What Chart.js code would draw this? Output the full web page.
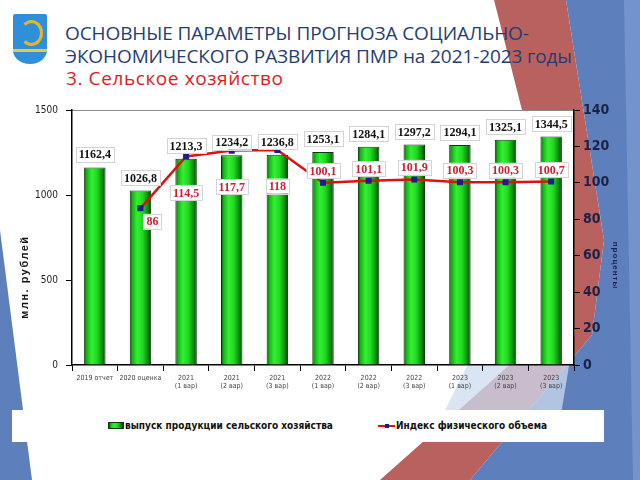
<!DOCTYPE html>
<html lang="ru">
<head>
<meta charset="utf-8">
<title>Сельское хозяйство</title>
<script src="https://cdn.jsdelivr.net/npm/chart.js@4.4.1/dist/chart.umd.min.js"></script>
<style>
  html, body { margin: 0; padding: 0; }
  body { width: 640px; height: 480px; position: relative; overflow: hidden; background: #fff; font-family: 'Open Sans', sans-serif; }
  .deco { position: absolute; left: 0; top: 0; width: 640px; height: 480px; }
  #decoRed { background: #b9615f; clip-path: polygon(494px 0, 566px 0, 604px 240px, 592px 335px, 470px 480px, 380px 480px, 560px 320px, 522px 110px); }
  #decoBlue { background: #5d80bd; clip-path: polygon(566px 0, 640px 0, 640px 480px, 470px 480px, 592px 335px, 604px 240px); }
  #decoStrip { background: #7293cb; clip-path: polygon(624px 0, 640px 0, 640px 480px, 633px 480px); }
  #decoLeft { background: #5d80bd; clip-path: polygon(0 230px, 32px 480px, 0 480px); }
  #decoLight { background: rgba(205, 220, 240, 0.75); clip-path: polygon(500px 300px, 575px 330px, 560px 420px, 440px 420px); }

  #emblem { position: absolute; left: 13px; top: 14px; width: 34px; height: 50px; background: #2f8fd8;
            border-radius: 2px 2px 50% 50% / 2px 2px 28% 28%; overflow: hidden; }
  #emblem .swirl { position: absolute; left: 7px; top: 6px; width: 17px; height: 20px; border: 3px solid #e6b52e; border-radius: 50%; border-left-color: transparent; }
  #emblem .stripe { position: absolute; left: 0; top: 35px; width: 34px; height: 3px; background: #f2c63a; }

  #title { position: absolute; left: 65px; top: 22px; color: #1f3d73; font-size: 19px; line-height: 23px; white-space: nowrap; letter-spacing: -0.1px; }
  #subtitle { position: absolute; left: 66px; top: 67px; color: #e01b22; font-size: 19px; line-height: 23px; white-space: nowrap; letter-spacing: 0.6px; }

  #chartBox { position: absolute; left: 0; top: 95px; width: 640px; height: 310px; }

  #legend { position: absolute; left: 12px; top: 410px; width: 592px; height: 32px; background: #fff;
            font: bold 10px 'Liberation Sans Narrow', 'DejaVu Sans Condensed', sans-serif; color: #111; }
  #legend .item { position: absolute; top: 10px; height: 12px; line-height: 12px; white-space: nowrap; }
  #legend .bar { display: inline-block; width: 16px; height: 7px; vertical-align: 0; margin-right: 1px; border: 1px solid #0b3b0b; box-sizing: border-box;
                 background: linear-gradient(90deg, #0a3f0a, #13b513 12%, #33f033 35%, #22d822 60%, #0d8a0d 85%, #063806); }
  #legend .line { display: inline-block; position: relative; width: 17px; height: 7px; margin-right: 1px; }
  #legend .line::before { content: ''; position: absolute; left: 0; top: 3px; width: 17px; height: 2px; background: #e01010; }
  #legend .line::after { content: ''; position: absolute; left: 7px; top: 2px; width: 4px; height: 4px; background: #1c1c8c; }
</style>
</head>
<body>
<div class="deco" id="decoLeft"></div>
<div class="deco" id="decoRed"></div>
<div class="deco" id="decoBlue"></div>
<div class="deco" id="decoStrip"></div>
<div class="deco" id="decoLight"></div>

<div id="emblem"><div class="swirl"></div><div class="stripe"></div></div>
<div id="title">ОСНОВНЫЕ ПАРАМЕТРЫ ПРОГНОЗА СОЦИАЛЬНО-<br>ЭКОНОМИЧЕСКОГО РАЗВИТИЯ ПМР на 2021-2023 годы</div>
<div id="subtitle">3. Сельское хозяйство</div>

<div id="chartBox"><canvas id="agroChart"></canvas></div>
<div id="legend"></div>

<script>
// Данные графика
const categories = [
    ['2019 отчет'], ['2020 оценка'],
    ['2021', '(1 вар)'], ['2021', '(2 вар)'], ['2021', '(3 вар)'],
    ['2022', '(1 вар)'], ['2022', '(2 вар)'], ['2022', '(3 вар)'],
    ['2023', '(1 вар)'], ['2023', '(2 вар)'], ['2023', '(3 вар)']
];
const outputValues = [1162.4, 1026.8, 1213.3, 1234.2, 1236.8, 1253.1, 1284.1, 1297.2, 1294.1, 1325.1, 1344.5];
const indexValues = [null, 86, 114.5, 117.7, 118, 100.1, 101.1, 101.9, 100.3, 100.3, 100.7];
const barLabel = 'выпуск продукции сельского хозяйства';
const lineLabel = 'Индекс физического объема';
const leftAxisTitle = 'млн. рублей';
const rightAxisTitle = 'проценты';

const NARROW = "'Liberation Sans Narrow', 'DejaVu Sans Condensed', 'Arial Narrow', sans-serif";
const SERIF = "'Liberation Serif', 'DejaVu Serif', serif";
const BAR_PCT = 0.47;

const fmt = v => String(v).replace('.', ',');

// Зеленый "цилиндрический" градиент для столбцов
function barGradient(context) {
    const chart = context.chart;
    const a = chart.chartArea;
    if (!a || context.type !== 'data') return '#22d822';
    const x = chart.scales.x.getPixelForValue(context.dataIndex);
    const half = (a.right - a.left) / categories.length * BAR_PCT / 2;
    const g = chart.ctx.createLinearGradient(x - half, 0, x + half, 0);
    g.addColorStop(0, '#0a3f0a');
    g.addColorStop(0.12, '#13b513');
    g.addColorStop(0.35, '#33f033');
    g.addColorStop(0.6, '#22d822');
    g.addColorStop(0.85, '#0d8a0d');
    g.addColorStop(1, '#063806');
    return g;
}

function drawTag(ctx, text, x, y, color) {
    const w = ctx.measureText(text).width + 6;
    const h = 15;
    ctx.fillStyle = '#fff';
    ctx.fillRect(x - w / 2, y - h / 2, w, h);
    ctx.strokeStyle = '#d4d4d4';
    ctx.lineWidth = 1;
    ctx.strokeRect(Math.round(x - w / 2) + 0.5, Math.round(y - h / 2) + 0.5, Math.round(w), h);
    ctx.fillStyle = color;
    ctx.fillText(text, x, y + 1);
}

// Фон области построения, подписи значений и названия осей
const slidePlugin = {
    id: 'slidePlugin',
    beforeDraw(chart) {
        const { ctx, chartArea: a } = chart;
        ctx.save();
        ctx.fillStyle = '#fff';
        ctx.fillRect(a.left, a.top, a.right - a.left, a.bottom - a.top);
        ctx.strokeStyle = '#8a8a8a';
        ctx.lineWidth = 1;
        ctx.beginPath();
        ctx.moveTo(a.left, a.top + 0.5);
        ctx.lineTo(a.right, a.top + 0.5);
        ctx.stroke();
        ctx.restore();
    },
    afterDatasetsDraw(chart) {
        const ctx = chart.ctx;
        ctx.save();
        ctx.font = `bold 12px ${SERIF}`;
        ctx.textAlign = 'center';
        ctx.textBaseline = 'middle';

        chart.getDatasetMeta(0).data.forEach((bar, i) => {
            drawTag(ctx, fmt(outputValues[i]), bar.x, bar.y - 13, '#111');
        });

        chart.getDatasetMeta(1).data.forEach((pt, i) => {
            const v = indexValues[i];
            if (v === null) return;
            let x = pt.x, y = pt.y;
            if (v < 95) { x += 12; y += 13; }
            else if (v > 105) { y += 36; }
            else { y -= 12; }
            drawTag(ctx, fmt(v), x, y, '#cc1f2f');
        });
        ctx.restore();
    },
    afterDraw(chart) {
        const { ctx, chartArea: a } = chart;
        ctx.save();
        ctx.textAlign = 'center';
        ctx.textBaseline = 'middle';

        ctx.fillStyle = '#111';
        ctx.font = `bold 11px 'Liberation Sans', Arial, sans-serif`;
        ctx.letterSpacing = '1.5px';
        ctx.translate(a.left - 47, a.top + (a.bottom - a.top) * 0.655);
        ctx.rotate(-Math.PI / 2);
        ctx.fillText(leftAxisTitle, 0, 0);
        ctx.restore();

        ctx.save();
        ctx.textAlign = 'center';
        ctx.textBaseline = 'middle';
        ctx.fillStyle = '#1a2350';
        ctx.font = `bold 8px 'Liberation Sans', Arial, sans-serif`;
        ctx.letterSpacing = '1px';
        ctx.translate(a.right + 41, a.top + (a.bottom - a.top) * 0.61);
        ctx.rotate(Math.PI / 2);
        ctx.fillText(rightAxisTitle, 0, 0);
        ctx.restore();
    }
};

const ctx = document.getElementById('agroChart').getContext('2d');
new Chart(ctx, {
    type: 'bar',
    data: {
        labels: categories,
        datasets: [
            {
                type: 'bar',
                label: barLabel,
                data: outputValues,
                yAxisID: 'y',
                order: 1,
                backgroundColor: barGradient,
                borderColor: '#0b3b0b',
                borderWidth: 1,
                barPercentage: BAR_PCT,
                categoryPercentage: 1
            },
            {
                type: 'line',
                label: lineLabel,
                data: indexValues,
                yAxisID: 'y1',
                order: 0,
                borderColor: '#e01010',
                borderWidth: 2.5,
                tension: 0,
                pointStyle: 'rect',
                pointRadius: 2.5,
                pointBackgroundColor: '#1c1c8c',
                pointBorderColor: '#1c1c8c',
                spanGaps: false
            }
        ]
    },
    options: {
        responsive: true,
        maintainAspectRatio: false,
        animation: false,
        layout: { padding: { top: 15, left: 0, right: 0, bottom: 0 } },
        plugins: {
            legend: { display: false },
            tooltip: { enabled: false }
        },
        scales: {
            x: {
                offset: true,
                afterFit: s => { s.height = 40; },
                border: { color: '#000', width: 1.5 },
                grid: { display: true, drawOnChartArea: false, offset: true, color: '#000', tickLength: 6, lineWidth: 1 },
                ticks: { autoSkip: false, maxRotation: 0, color: '#444', padding: 3, font: { family: NARROW, size: 7 } }
            },
            y: {
                position: 'left',
                min: 0, max: 1500,
                afterFit: s => { s.width = 72; },
                border: { color: '#000', width: 1.5 },
                grid: { drawOnChartArea: false, color: '#000', tickLength: 6 },
                ticks: { stepSize: 500, color: '#222', padding: 8, font: { family: NARROW, size: 10 }, callback: v => String(v) }
            },
            y1: {
                position: 'right',
                min: 0, max: 140,
                afterFit: s => { s.width = 66; },
                border: { color: '#000', width: 1.5 },
                grid: { drawOnChartArea: false, color: '#000', tickLength: 6 },
                ticks: { stepSize: 20, color: '#1a2246', padding: 3, font: { family: NARROW, size: 14, weight: 'bold' }, callback: v => String(v) }
            }
        }
    },
    plugins: [slidePlugin]
});

// Легенда в HTML
const legendEl = document.getElementById('legend');
legendEl.innerHTML =
    `<div class="item" style="left:96px"><span class="bar"></span>${barLabel}</div>` +
    `<div class="item" style="left:366px"><span class="line"></span>${lineLabel}</div>`;
</script>
</body>
</html>
